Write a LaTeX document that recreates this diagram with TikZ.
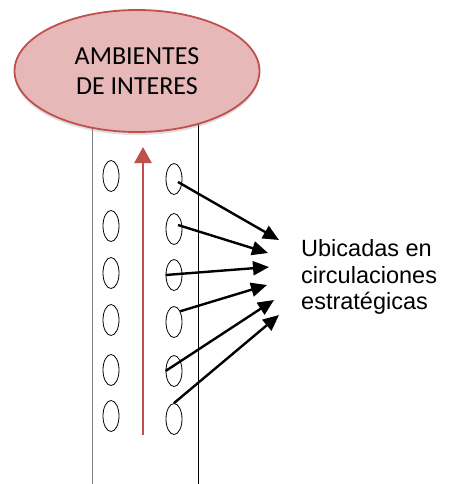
\documentclass[tikz,border=0pt]{standalone}
\usepackage{fontspec}
\setmainfont{Liberation Sans}
\newfontfamily\calibri{Carlito}
\usetikzlibrary{arrows.meta,shapes.geometric,shadows}
\definecolor{rim}{HTML}{C0504D}
\definecolor{rose}{HTML}{E6B9B8}

\begin{document}
\begin{tikzpicture}[x=1pt,y=-1pt,
    hole/.style={draw,ellipse,minimum width=16pt,minimum height=31pt,inner sep=0pt,line width=0.8pt},
    pointer/.style={-{Triangle[length=16pt,width=14pt]},line width=2.4pt}]
        \useasboundingbox (0,0) rectangle (448,484);

        % corridor walls
        \draw[gray,line width=1pt] (92,100) -- (92,484);
        \draw[line width=0.9pt] (198,100) -- (198,484);

        \node[ellipse,draw=rim,fill=rose,line width=1.8pt,minimum width=245pt,minimum height=122pt,
          drop shadow={shadow xshift=0pt,shadow yshift=-3pt,opacity=0.25},
          align=center,font=\calibri\fontsize{26}{30}\selectfont] (amb) at (137,71) {AMBIENTES\\DE INTERES};

        \path
        (111,176) node[hole](l1) {}
        (111,226) node[hole](l2) {}
        (111,273) node[hole](l3) {}
        (111,320) node[hole](l4) {}
        (111,370) node[hole](l5) {}
        (111,416) node[hole](l6) {}
        (174,179) node[hole](r1) {}
        (174,229) node[hole](r2) {}
        (174,275) node[hole](r3) {}
        (174,322) node[hole](r4) {}
        (174,371) node[hole](r5) {}
        (174,419) node[hole](r6) {}
        (301,277) node[anchor=west,align=left,inner sep=0pt,font=\fontsize{23.5}{26.5}\selectfont](ubic) {Ubicadas en\\circulaciones\\estratégicas}
        ;

        \coordinate (base) at (143,435);
        \coordinate (top) at (143,147);
        \coordinate (t1) at (279,240);
        \coordinate (t2) at (268,253);
        \coordinate (t3) at (269,267);
        \coordinate (t4) at (267,285);
        \coordinate (t5) at (274,300);
        \coordinate (t6) at (279,315);

        \draw[rim,line width=2.6pt,-{Triangle[length=16pt,width=17pt]}] (base) -- (top);

        \draw[pointer] (r1.center) ++(4,3) -- (t1);
        \draw[pointer] (r2.center) ++(4,-4) -- (t2);
        \draw[pointer] (r3.west) -- (t3);
        \draw[pointer] (r4.60) -- (t4);
        \draw[pointer] (r5.west) -- (t5);
        \draw[pointer] (r6.north) -- (t6);
      \end{tikzpicture}
\end{document}
